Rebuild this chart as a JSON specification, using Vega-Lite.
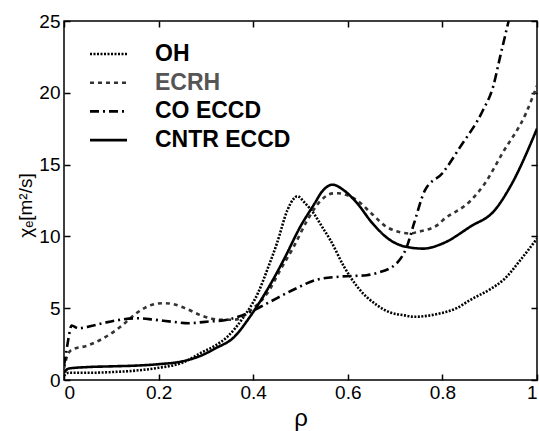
{
 "$schema": "https://vega.github.io/schema/vega-lite/v6.json",
 "width": 473, "height": 359,
 "autosize": {"type": "none"},
 "padding": {"left": 64, "top": 21, "right": 2, "bottom": 51},
 "background": "white",
 "config": {
   "font": "Liberation Sans",
   "view": {"stroke": "black", "strokeWidth": 1.5},
   "axis": {"domain": false, "grid": false, "ticks": true, "offset": -6, "tickColor": "black", "tickSize": 6, "tickWidth": 1.5, "labelColor": "black", "labelFont": "Liberation Sans", "labelFontSize": 19, "titleColor": "black", "titleFontWeight": "normal", "titleFont": "Liberation Sans"}
 },
 "data": {"values": [
  {"s":"OH","rho":0,"chi":0.3},{"s":"OH","rho":0.01,"chi":0.5},{"s":"OH","rho":0.05,"chi":0.5},{"s":"OH","rho":0.1,"chi":0.55},{"s":"OH","rho":0.15,"chi":0.65},{"s":"OH","rho":0.2,"chi":0.85},{"s":"OH","rho":0.25,"chi":1.2},{"s":"OH","rho":0.29,"chi":1.9},{"s":"OH","rho":0.32,"chi":2.4},{"s":"OH","rho":0.345,"chi":3.0},{"s":"OH","rho":0.38,"chi":4.4},{"s":"OH","rho":0.41,"chi":6.05},{"s":"OH","rho":0.43,"chi":7.7},{"s":"OH","rho":0.45,"chi":9.5},{"s":"OH","rho":0.472,"chi":11.8},{"s":"OH","rho":0.485,"chi":12.6},{"s":"OH","rho":0.493,"chi":12.8},{"s":"OH","rho":0.51,"chi":12.3},{"s":"OH","rho":0.528,"chi":11.6},{"s":"OH","rho":0.545,"chi":10.7},{"s":"OH","rho":0.563,"chi":9.75},{"s":"OH","rho":0.592,"chi":7.9},{"s":"OH","rho":0.62,"chi":6.5},{"s":"OH","rho":0.662,"chi":5.2},{"s":"OH","rho":0.69,"chi":4.7},{"s":"OH","rho":0.72,"chi":4.5},{"s":"OH","rho":0.74,"chi":4.4},{"s":"OH","rho":0.79,"chi":4.6},{"s":"OH","rho":0.83,"chi":5.0},{"s":"OH","rho":0.86,"chi":5.6},{"s":"OH","rho":0.9,"chi":6.3},{"s":"OH","rho":0.93,"chi":7.0},{"s":"OH","rho":0.966,"chi":8.4},{"s":"OH","rho":1.0,"chi":9.85},
  {"s":"ECRH","rho":0,"chi":0.8},{"s":"ECRH","rho":0.005,"chi":1.5},{"s":"ECRH","rho":0.016,"chi":2.1},{"s":"ECRH","rho":0.05,"chi":2.4},{"s":"ECRH","rho":0.088,"chi":3.0},{"s":"ECRH","rho":0.123,"chi":3.8},{"s":"ECRH","rho":0.151,"chi":4.6},{"s":"ECRH","rho":0.193,"chi":5.3},{"s":"ECRH","rho":0.21,"chi":5.35},{"s":"ECRH","rho":0.229,"chi":5.3},{"s":"ECRH","rho":0.263,"chi":4.9},{"s":"ECRH","rho":0.29,"chi":4.5},{"s":"ECRH","rho":0.33,"chi":4.2},{"s":"ECRH","rho":0.36,"chi":4.2},{"s":"ECRH","rho":0.4,"chi":5.0},{"s":"ECRH","rho":0.43,"chi":6.05},{"s":"ECRH","rho":0.458,"chi":7.7},{"s":"ECRH","rho":0.486,"chi":9.3},{"s":"ECRH","rho":0.514,"chi":11.1},{"s":"ECRH","rho":0.543,"chi":12.5},{"s":"ECRH","rho":0.57,"chi":13.0},{"s":"ECRH","rho":0.578,"chi":13.0},{"s":"ECRH","rho":0.62,"chi":12.5},{"s":"ECRH","rho":0.65,"chi":11.6},{"s":"ECRH","rho":0.685,"chi":10.6},{"s":"ECRH","rho":0.733,"chi":10.2},{"s":"ECRH","rho":0.746,"chi":10.3},{"s":"ECRH","rho":0.79,"chi":10.8},{"s":"ECRH","rho":0.8,"chi":11.1},{"s":"ECRH","rho":0.86,"chi":12.5},{"s":"ECRH","rho":0.89,"chi":13.7},{"s":"ECRH","rho":0.927,"chi":15.8},{"s":"ECRH","rho":0.977,"chi":18.6},{"s":"ECRH","rho":1.0,"chi":20.5},
  {"s":"CO ECCD","rho":0,"chi":1.0},{"s":"CO ECCD","rho":0.005,"chi":2.0},{"s":"CO ECCD","rho":0.01,"chi":3.0},{"s":"CO ECCD","rho":0.016,"chi":3.8},{"s":"CO ECCD","rho":0.03,"chi":3.6},{"s":"CO ECCD","rho":0.05,"chi":3.7},{"s":"CO ECCD","rho":0.088,"chi":4.0},{"s":"CO ECCD","rho":0.12,"chi":4.2},{"s":"CO ECCD","rho":0.157,"chi":4.3},{"s":"CO ECCD","rho":0.19,"chi":4.2},{"s":"CO ECCD","rho":0.23,"chi":4.05},{"s":"CO ECCD","rho":0.263,"chi":3.95},{"s":"CO ECCD","rho":0.298,"chi":4.05},{"s":"CO ECCD","rho":0.345,"chi":4.2},{"s":"CO ECCD","rho":0.388,"chi":4.65},{"s":"CO ECCD","rho":0.43,"chi":5.35},{"s":"CO ECCD","rho":0.486,"chi":6.3},{"s":"CO ECCD","rho":0.536,"chi":7.0},{"s":"CO ECCD","rho":0.584,"chi":7.2},{"s":"CO ECCD","rho":0.64,"chi":7.3},{"s":"CO ECCD","rho":0.662,"chi":7.45},{"s":"CO ECCD","rho":0.704,"chi":8.15},{"s":"CO ECCD","rho":0.725,"chi":9.3},{"s":"CO ECCD","rho":0.74,"chi":10.9},{"s":"CO ECCD","rho":0.763,"chi":13.2},{"s":"CO ECCD","rho":0.8,"chi":14.4},{"s":"CO ECCD","rho":0.837,"chi":16.2},{"s":"CO ECCD","rho":0.886,"chi":18.8},{"s":"CO ECCD","rho":0.907,"chi":20.4},{"s":"CO ECCD","rho":0.922,"chi":22.5},{"s":"CO ECCD","rho":0.94,"chi":25.0},
  {"s":"CNTR ECCD","rho":0,"chi":0.5},{"s":"CNTR ECCD","rho":0.01,"chi":0.8},{"s":"CNTR ECCD","rho":0.05,"chi":0.9},{"s":"CNTR ECCD","rho":0.1,"chi":0.95},{"s":"CNTR ECCD","rho":0.15,"chi":1.0},{"s":"CNTR ECCD","rho":0.2,"chi":1.1},{"s":"CNTR ECCD","rho":0.25,"chi":1.3},{"s":"CNTR ECCD","rho":0.29,"chi":1.7},{"s":"CNTR ECCD","rho":0.32,"chi":2.2},{"s":"CNTR ECCD","rho":0.36,"chi":3.0},{"s":"CNTR ECCD","rho":0.393,"chi":4.4},{"s":"CNTR ECCD","rho":0.43,"chi":6.3},{"s":"CNTR ECCD","rho":0.465,"chi":8.4},{"s":"CNTR ECCD","rho":0.5,"chi":10.7},{"s":"CNTR ECCD","rho":0.53,"chi":12.3},{"s":"CNTR ECCD","rho":0.545,"chi":13.1},{"s":"CNTR ECCD","rho":0.568,"chi":13.6},{"s":"CNTR ECCD","rho":0.592,"chi":13.2},{"s":"CNTR ECCD","rho":0.62,"chi":12.3},{"s":"CNTR ECCD","rho":0.65,"chi":11.0},{"s":"CNTR ECCD","rho":0.685,"chi":9.85},{"s":"CNTR ECCD","rho":0.72,"chi":9.3},{"s":"CNTR ECCD","rho":0.76,"chi":9.15},{"s":"CNTR ECCD","rho":0.8,"chi":9.5},{"s":"CNTR ECCD","rho":0.86,"chi":10.7},{"s":"CNTR ECCD","rho":0.91,"chi":11.8},{"s":"CNTR ECCD","rho":0.944,"chi":13.5},{"s":"CNTR ECCD","rho":1.0,"chi":17.5}
 ]},
 "layer": [
  {
   "mark": {"type": "line", "interpolate": "monotone", "strokeWidth": 2.6, "clip": true},
   "encoding": {
     "x": {"field": "rho", "type": "quantitative", "scale": {"domain": [0, 1], "nice": false}, "axis": {"values": [0, 0.2, 0.4, 0.6, 0.8, 1], "format": "~g", "title": "ρ", "titleFontSize": 24, "labelPadding": 3, "titlePadding": 4}},
     "y": {"field": "chi", "type": "quantitative", "scale": {"domain": [0, 25], "nice": false}, "axis": {"values": [0, 5, 10, 15, 20, 25], "title": "χₑ[m²/s]", "titleFontSize": 19, "titleY": 184, "labelPadding": 4, "titlePadding": 3}},
     "strokeDash": {"field": "s", "type": "nominal", "scale": {"domain": ["OH", "ECRH", "CO ECCD", "CNTR ECCD"], "range": [[2, 1.5], [4, 4], [9, 4, 2, 4], [1, 0]]},
       "legend": {"title": null, "orient": "none", "legendX": 33, "legendY": 21.5, "symbolType": "M-2,0H2", "symbolSize": 342, "symbolStrokeWidth": 2.6, "labelFontSize": 23, "labelFontWeight": "bold", "labelFont": "Liberation Sans", "labelOffset": 35, "rowPadding": 4.7, "padding": 0, "labelColor": "black",
         "encode": {"labels": {"update": {"fill": {"signal": "datum.label === 'ECRH' ? '#555' : 'black'"}}}}}},
     "color": {"field": "s", "type": "nominal", "scale": {"domain": ["OH", "ECRH", "CO ECCD", "CNTR ECCD"], "range": ["#000000", "#333333", "#000000", "#000000"]}, "legend": {"title": null}}
   }
  },
  {
   "mark": {"type": "line", "opacity": 0},
   "encoding": {
     "x": {"field": "rho", "type": "quantitative", "axis": {"orient": "top", "values": [0, 0.2, 0.4, 0.6, 0.8, 1], "labels": false, "title": null}},
     "y": {"field": "chi", "type": "quantitative", "axis": {"orient": "right", "values": [0, 5, 10, 15, 20, 25], "labels": false, "title": null}},
     "detail": {"field": "s", "type": "nominal"}
   }
  }
 ],
 "resolve": {"axis": {"x": "independent", "y": "independent"}}
}
